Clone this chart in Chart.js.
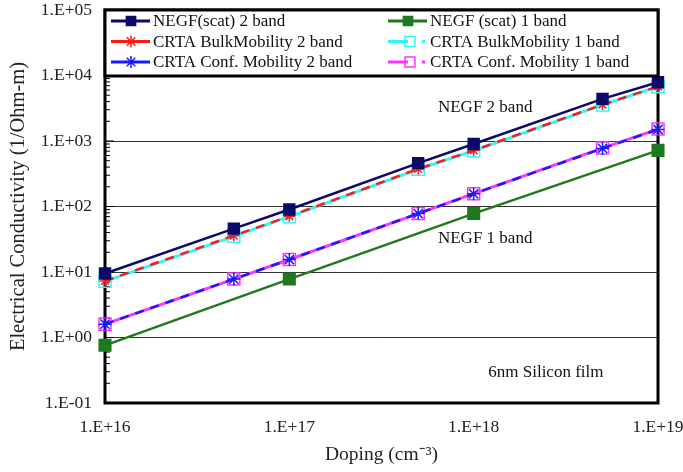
<!DOCTYPE html>
<html>
<head>
<meta charset="utf-8">
<script src="https://cdn.jsdelivr.net/npm/chart.js@4.4.1/dist/chart.umd.min.js"></script>
<style>
  html, body { margin: 0; padding: 0; background: #fff; }
</style>
</head>
<body>
<canvas id="graficoCondutividade" width="683" height="472"></canvas>
<script>
// Dados (condutividade em 1/Ohm-m)
const doping = [1e16, 5e16, 1e17, 5e17, 1e18, 5e18, 1e19];
const dopingNegf1 = [1e16, 1e17, 1e18, 1e19];

const negf2Band = [9.5, 46, 90, 460, 900, 4400, 7900];
const crtaBulk2Band = [7.3, 36, 71, 375, 720, 3600, 6800];
const crtaConf2Band = [1.6, 7.8, 15.5, 78, 156, 770, 1500];
const negf1Band = [0.76, 7.8, 78, 720];
const crtaBulk1Band = [7.2, 35, 70, 370, 710, 3550, 6750];
const crtaConf1Band = [1.6, 7.8, 15.5, 78, 157, 780, 1520];

const labels = [
  "NEGF(scat) 2 band",
  "CRTA BulkMobility 2 band",
  "CRTA Conf. Mobility 2 band",
  "NEGF (scat) 1 band",
  "CRTA BulkMobility 1 band",
  "CRTA Conf. Mobility 1 band"
];

const xTicks = [1e16, 1e17, 1e18, 1e19];
const yTicks = [1e-1, 1e0, 1e1, 1e2, 1e3, 1e4, 1e5];

// Textos dentro do gráfico (posição em coordenadas dos dados)
const anotacoes = [
  { texto: "NEGF 2 band", x: 6.4e17, y: 3240 },
  { texto: "NEGF 1 band", x: 6.4e17, y: 32 },
  { texto: "6nm Silicon film", x: 1.2e18, y: 0.296 }
];

const serif = '"Liberation Serif", "Times New Roman", serif';

function pontos(xs, ys) {
  return xs.map((x, i) => ({ x: x, y: ys[i] }));
}

function formatoE(v) {
  const e = Math.round(Math.log10(v));
  return "1.E" + (e < 0 ? "-" : "+") + String(Math.abs(e)).padStart(2, "0");
}

function semPadding(s) {
  s.paddingTop = 0; s.paddingBottom = 0; s.paddingLeft = 0; s.paddingRight = 0;
}

function desenhaMarcador(ctx, estilo, x, y, r, cor, preenchimento, lw) {
  ctx.beginPath();
  if (estilo === "rect") {
    const s = r * Math.SQRT1_2;
    ctx.rect(x - s, y - s, 2 * s, 2 * s);
  } else {
    const d = r * Math.SQRT1_2;
    ctx.moveTo(x, y - r); ctx.lineTo(x, y + r);
    ctx.moveTo(x - r, y); ctx.lineTo(x + r, y);
    ctx.moveTo(x - d, y - d); ctx.lineTo(x + d, y + d);
    ctx.moveTo(x - d, y + d); ctx.lineTo(x + d, y - d);
  }
  if (preenchimento && preenchimento !== "transparent") {
    ctx.fillStyle = preenchimento;
    ctx.fill();
  }
  ctx.lineWidth = lw;
  ctx.strokeStyle = cor;
  ctx.stroke();
}

// Moldura, marcas menores do eixo y e textos
const moldura = {
  id: "moldura",
  beforeDatasetsDraw(chart) {
    const { ctx, chartArea, scales } = chart;
    ctx.save();
    ctx.strokeStyle = "#000";
    ctx.lineWidth = 1;
    yTicks.slice(0, -1).forEach(dec => {
      for (let k = 1; k < 10; k++) {
        const y = scales.y.getPixelForValue(dec * k);
        const len = k === 1 ? 9 : 5;
        ctx.beginPath();
        ctx.moveTo(chartArea.left, y);
        ctx.lineTo(chartArea.left + len, y);
        ctx.stroke();
      }
    });
    ctx.lineWidth = 3;
    ctx.strokeRect(chartArea.left, chartArea.top, chartArea.right - chartArea.left, chartArea.bottom - chartArea.top);

    ctx.fillStyle = "#111";
    ctx.font = "17px " + serif;
    ctx.textBaseline = "middle";
    ctx.textAlign = "left";
    anotacoes.forEach(a => {
      ctx.fillText(a.texto, scales.x.getPixelForValue(a.x), scales.y.getPixelForValue(a.y));
    });
    ctx.restore();
  }
};

// Legenda em caixa, duas colunas
const legendaCaixa = {
  id: "legendaCaixa",
  afterDatasetsDraw(chart) {
    const { ctx, chartArea } = chart;
    const topo = chartArea.top, base = 76;
    ctx.save();
    ctx.fillStyle = "#fff";
    ctx.fillRect(chartArea.left, topo, chartArea.right - chartArea.left, base - topo);
    ctx.lineWidth = 3;
    ctx.strokeStyle = "#000";
    ctx.strokeRect(chartArea.left, topo, chartArea.right - chartArea.left, base - topo);

    ctx.font = "17px " + serif;
    ctx.textBaseline = "middle";
    ctx.textAlign = "left";
    chart.data.datasets.forEach((ds, i) => {
      const col = i < 3 ? 0 : 1;
      const linha = i % 3;
      const x0 = col === 0 ? 111 : 388;
      const y = 21 + linha * 20.5;
      const aberto = ds.pointBackgroundColor === "transparent";
      ctx.strokeStyle = ds.borderColor;
      ctx.lineWidth = 3;
      ctx.beginPath();
      ctx.moveTo(x0, y);
      ctx.lineTo(aberto ? x0 + 20 : x0 + 39, y);
      ctx.stroke();
      if (aberto) {
        desenhaMarcador(ctx, "rect", x0 + 22, y, 7, ds.borderColor, null, 1.5);
        ctx.fillStyle = ds.borderColor;
        ctx.fillRect(x0 + 34, y - 1.5, 3, 3);
      } else {
        desenhaMarcador(ctx, ds.pointStyle, x0 + 20, y, ds.pointStyle === "rect" ? 6.5 : 6,
          ds.borderColor, ds.pointBackgroundColor, 1.5);
      }
      ctx.fillStyle = "#111";
      ctx.fillText(ds.label, x0 + 42, y + 1);
    });
    ctx.restore();
  }
};

const grafico = document.getElementById("graficoCondutividade").getContext("2d");
new Chart(grafico, {
  type: "line",
  data: {
    datasets: [
      {
        label: labels[0], data: pontos(doping, negf2Band), order: 0,
        borderColor: "#0a0a6a", backgroundColor: "#0a0a6a", borderWidth: 2.5,
        pointStyle: "rect", pointRadius: 7, pointBackgroundColor: "#0a0a6a", pointBorderColor: "#0a0a6a"
      },
      {
        label: labels[1], data: pontos(doping, crtaBulk2Band), order: 2,
        borderColor: "#ff1a1a", backgroundColor: "#ff1a1a", borderWidth: 2.5, borderDash: [9, 7],
        pointStyle: "star", pointRadius: 5.5, pointBorderWidth: 1.5, pointBackgroundColor: "#ff1a1a", pointBorderColor: "#ff1a1a"
      },
      {
        label: labels[2], data: pontos(doping, crtaConf2Band), order: 3,
        borderColor: "#1a1aff", backgroundColor: "#1a1aff", borderWidth: 2.5, borderDash: [9, 7],
        pointStyle: "star", pointRadius: 6.5, pointBorderWidth: 1.5, pointBackgroundColor: "#1a1aff", pointBorderColor: "#1a1aff"
      },
      {
        label: labels[3], data: pontos(dopingNegf1, negf1Band), order: 1,
        borderColor: "#1f7a1f", backgroundColor: "#1f7a1f", borderWidth: 2.5,
        pointStyle: "rect", pointRadius: 7.5, pointBackgroundColor: "#1f7a1f", pointBorderColor: "#1f7a1f"
      },
      {
        label: labels[4], data: pontos(doping, crtaBulk1Band), order: 4,
        borderColor: "#33f5f5", backgroundColor: "#33f5f5", borderWidth: 3,
        pointStyle: "rect", pointRadius: 8.5, pointBorderWidth: 1.5, pointBackgroundColor: "transparent", pointBorderColor: "#33f5f5"
      },
      {
        label: labels[5], data: pontos(doping, crtaConf1Band), order: 5,
        borderColor: "#ff33ff", backgroundColor: "#ff33ff", borderWidth: 3,
        pointStyle: "rect", pointRadius: 8.5, pointBorderWidth: 1.5, pointBackgroundColor: "transparent", pointBorderColor: "#ff33ff"
      }
    ]
  },
  options: {
    responsive: false,
    animation: false,
    devicePixelRatio: 1,
    clip: false,
    layout: { padding: { left: 0, right: 25, top: 8, bottom: 0 } },
    elements: { line: { tension: 0 } },
    plugins: {
      legend: { display: false },
      tooltip: { enabled: false }
    },
    scales: {
      x: {
        type: "logarithmic",
        min: 1e16, max: 1e19,
        afterBuildTicks: s => { s.ticks = xTicks.map(v => ({ value: v })); },
        afterFit: s => { s.height = 69; semPadding(s); },
        grid: { display: false, drawTicks: false },
        border: { display: false },
        ticks: {
          autoSkip: false, maxRotation: 0, padding: 16,
          color: "#222", font: { family: serif, size: 17.5, lineHeight: 1 },
          callback: v => formatoE(v)
        },
        title: {
          display: true, text: "Doping (cm\u207B\u00B3)", color: "#222",
          font: { family: serif, size: 19.5 }, padding: { top: 0, bottom: 5 }
        }
      },
      y: {
        type: "logarithmic",
        min: 1e-1, max: 1e5,
        afterBuildTicks: s => { s.ticks = yTicks.map(v => ({ value: v })); },
        afterFit: s => { s.width = 105; semPadding(s); },
        grid: { color: "#333", lineWidth: 1, drawTicks: false },
        border: { display: false },
        ticks: {
          autoSkip: false, padding: 13,
          color: "#222", font: { family: serif, size: 17.5, lineHeight: 1 },
          callback: v => formatoE(v)
        },
        title: {
          display: true, text: "Electrical Conductivity (1/Ohm-m)", color: "#222",
          font: { family: serif, size: 20.5 }, padding: { top: 6, bottom: 0 }
        }
      }
    }
  },
  plugins: [moldura, legendaCaixa]
});
</script>
</body>
</html>
